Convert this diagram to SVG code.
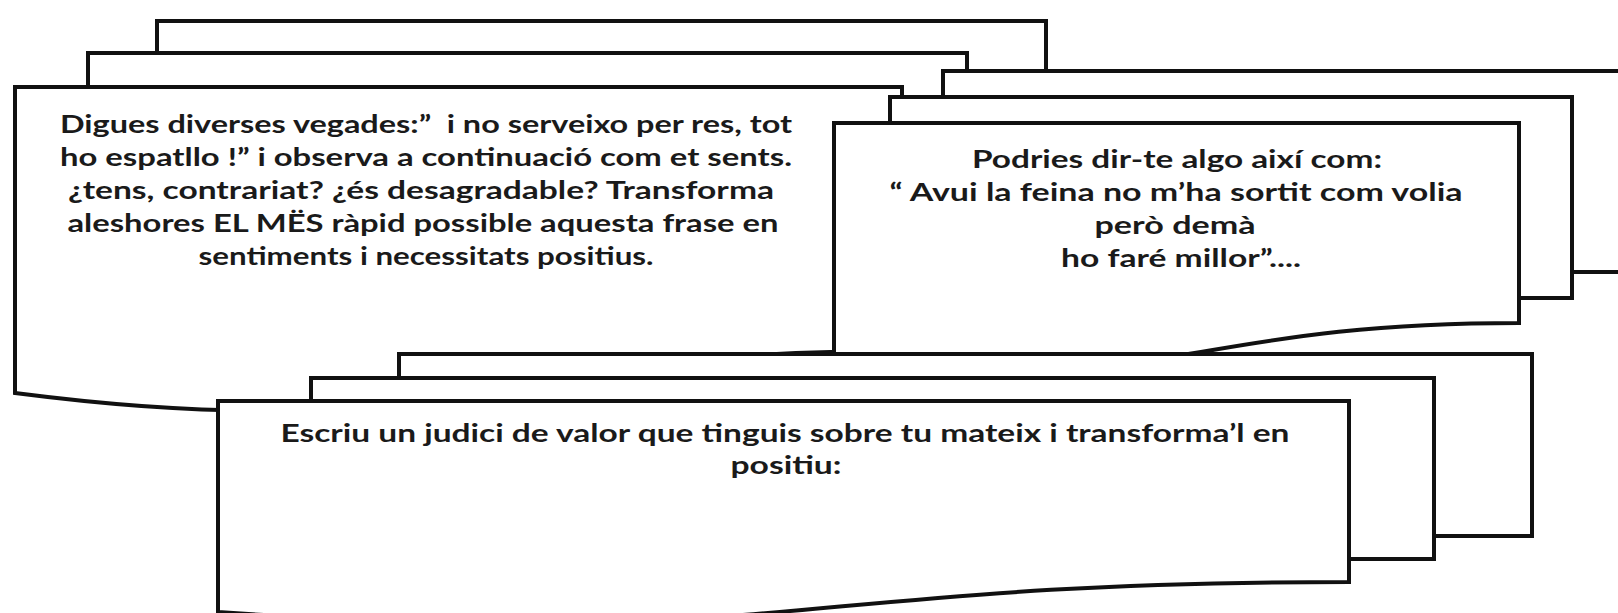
<svg xmlns="http://www.w3.org/2000/svg" width="1618" height="613" viewBox="0 0 1618 613">
<style>
.sh{fill:#fff;stroke:#111;stroke-width:4;stroke-linejoin:miter}
.t{font-family:Lato,"Open Sans","Liberation Sans",sans-serif;font-weight:bold;font-size:24px;fill:#1a1a1a;text-anchor:middle;white-space:pre}
</style>
<rect width="1618" height="613" fill="#fff"/>
<g id="doc-left">
<rect class="sh" x="157" y="21" width="889" height="280"/>
<rect class="sh" x="88" y="53" width="879" height="277"/>
<path class="sh" d="M15,87 L902,87 L902,351 C458.5,351 458.5,450 15,393 Z"/>
<text class="t" x="426" y="133" textLength="732" lengthAdjust="spacingAndGlyphs">Digues diverses vegades:”  i no serveixo per res, tot</text>
<text class="t" x="426" y="166" textLength="732" lengthAdjust="spacingAndGlyphs">ho espatllo !” i observa a continuació com et sents.</text>
<text class="t" x="421" y="199" textLength="706" lengthAdjust="spacingAndGlyphs">¿tens, contrariat? ¿és desagradable? Transforma</text>
<text class="t" x="423" y="232" textLength="711" lengthAdjust="spacingAndGlyphs">aleshores EL MËS ràpid possible aquesta frase en</text>
<text class="t" x="426" y="265" textLength="455" lengthAdjust="spacingAndGlyphs">sentiments i necessitats positius.</text>
</g>
<g id="doc-right">
<rect class="sh" x="943" y="71" width="700" height="201"/>
<rect class="sh" x="890" y="97" width="682" height="201"/>
<path class="sh" d="M834,123 L1519,123 L1519,323 C1176.5,323 1176.5,400 834,356 Z"/>
<text class="t" x="1177" y="168" textLength="410" lengthAdjust="spacingAndGlyphs">Podries dir-te algo així com:</text>
<text class="t" x="1176" y="201" textLength="573" lengthAdjust="spacingAndGlyphs">“ Avui la feina no m’ha sortit com volia</text>
<text class="t" x="1175" y="234" textLength="161" lengthAdjust="spacingAndGlyphs">però demà</text>
<text class="t" x="1181" y="267" textLength="240" lengthAdjust="spacingAndGlyphs">ho faré millor”....</text>
</g>
<g id="doc-bottom">
<rect class="sh" x="399" y="354" width="1133" height="182"/>
<rect class="sh" x="311" y="378" width="1123" height="181"/>
<path class="sh" d="M218,401 L1349,401 L1349,582 C783.5,582 783.5,651 218,612 Z"/>
<text class="t" x="785" y="442" textLength="1009" lengthAdjust="spacingAndGlyphs">Escriu un judici de valor que tinguis sobre tu mateix i transforma’l en</text>
<text class="t" x="786" y="474" textLength="111" lengthAdjust="spacingAndGlyphs">positiu:</text>
</g>
</svg>
